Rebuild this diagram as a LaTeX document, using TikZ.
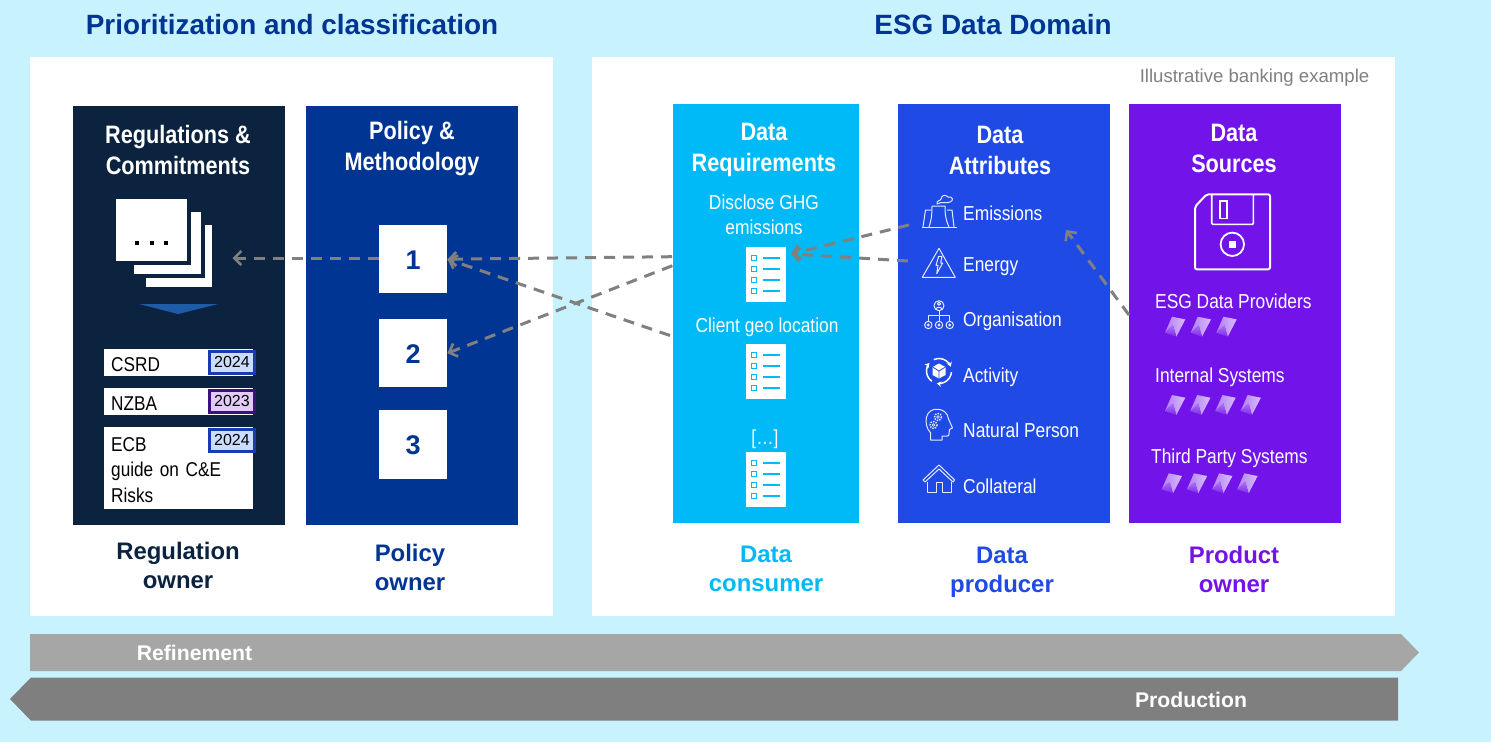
\documentclass[tikz,border=0pt]{standalone}
\usepackage{fontspec}
\setmainfont{Liberation Sans}
\newfontfamily\narrowfont[FakeStretch=0.86]{Liberation Sans}
\usetikzlibrary{arrows.meta}

\definecolor{bgcol}{HTML}{C9F2FF}
\definecolor{regcol}{HTML}{0C2340}
\definecolor{policycol}{HTML}{003594}
\definecolor{reqcol}{HTML}{00B9F7}
\definecolor{attrcol}{HTML}{1F4AE5}
\definecolor{sourcecol}{HTML}{7213EA}
\definecolor{linkcol}{HTML}{808080}
\definecolor{refinecol}{HTML}{A6A6A6}
\definecolor{prodcol}{HTML}{7F7F7F}
\definecolor{tagblue}{HTML}{1A3BB0}
\definecolor{tagbluefill}{HTML}{CBDDFF}
\definecolor{tagpurple}{HTML}{3A1280}
\definecolor{tagpurplefill}{HTML}{E2CCF7}
\definecolor{wedgecol}{HTML}{1F5CA8}

\newcommand{\fsize}[2]{\fontsize{#1}{#2}\selectfont}

\tikzset{
  panel/.style={anchor=north west,fill=white,minimum height=559pt,inner sep=0pt},
  colbox/.style={anchor=north west,minimum width=212pt,minimum height=419pt,inner sep=0pt},
  headtext/.style={text=white,align=center,inner sep=0pt,font=\narrowfont\bfseries\fsize{25.2}{31.5}},
  ownertext/.style={align=center,inner sep=0pt,font=\bfseries\fsize{23.9}{29}},
  bigtitle/.style={text=policycol,inner sep=0pt,font=\bfseries\fsize{27.9}{32}},
  itemtext/.style={text=white,inner sep=0pt,font=\narrowfont\fsize{20.2}{25}},
  flatitem/.style={itemtext,text height=14.5pt,text depth=0pt},
  leftitem/.style={flatitem,anchor=west},
  numbox/.style={anchor=north west,fill=white,text=policycol,minimum width=68pt,minimum height=68pt,
    inner sep=0pt,text height=20pt,text depth=0pt,font=\bfseries\fsize{27}{27}},
  rowbox/.style={anchor=north west,fill=white,minimum width=149pt,inner sep=0pt,inner xsep=7pt,
    text width=135pt,align=left,text height=17pt,font=\narrowfont\fsize{20}{25.5}},
  tagbox/.style 2 args={anchor=north west,draw=#1,fill=#2,line width=2.4pt,minimum width=45pt,
    minimum height=22pt,inner sep=0pt,font=\fsize{16}{16}},
  listbox/.style={anchor=north west,fill=white,minimum width=40pt,minimum height=55pt,inner sep=0pt},
  iconline/.style={draw=white!88!attrcol,line width=1pt,line join=round},
  link/.style={draw=linkcol,line width=3pt,dash pattern=on 11pt off 8pt,
    -{Straight Barb[length=7pt,width=14pt,line width=2.6pt]}},
  pics/gem/.style={code={
    \shade[left color=white!45!sourcecol,right color=white!72!sourcecol]
      (7,0) -- (20.3,2.7) -- (11.3,20) -- (8,8.3) -- (0,16) -- cycle;
    \shade[top color=white!42!sourcecol,bottom color=white!8!sourcecol]
      (8,8.3) -- (11.3,20) -- (0,16) -- cycle;
  }}
}

\begin{document}
\begin{tikzpicture}[x=1pt,y=-1pt]
  \fill[bgcol] (0,0) rectangle (1491,742);
  % panels
  \node[panel,minimum width=523pt] (leftpanel) at (30,57) {};
  \node[panel,minimum width=803pt] (rightpanel) at (592,57) {};
  \node[bigtitle] (lefttitle) at (292,25) {Prioritization and classification};
  \node[bigtitle] (righttitle) at (993,25) {ESG Data Domain};
  \node[text=black!50,inner sep=0pt,font=\fsize{18.6}{20}] (hint) at (1254.5,78) {Illustrative banking example};

  % columns
  \node[colbox,fill=regcol] (regcolumn) at (73,106) {};
  \node[colbox,fill=policycol] (policycolumn) at (306,106) {};
  \node[colbox,fill=reqcol,minimum width=186pt] (reqcolumn) at (673,104) {};
  \node[colbox,fill=attrcol] (attrcolumn) at (898,104) {};
  \node[colbox,fill=sourcecol] (sourcecolumn) at (1129,104) {};

  \node[headtext] (reghead) at (178,150) {Regulations \&\\Commitments};
  \node[headtext] (policyhead) at (412,148.5) {Policy \&\\Methodology};
  \node[headtext] (reqhead) at (764,150) {Data\\Requirements};
  \node[headtext] (attrhead) at (1000,150.5) {Data\\Attributes};
  \node[headtext] (sourcehead) at (1234,148.5) {Data\\Sources};

  \node[ownertext,text=regcol] (regowner) at (178,565.5) {Regulation\\owner};
  \node[ownertext,text=policycol] (policyowner) at (410,567.5) {Policy\\owner};
  \node[ownertext,text=reqcol] (reqowner) at (766,568.5) {Data\\consumer};
  \node[ownertext,text=attrcol] (attrowner) at (1002,572) {Data\\producer};
  \node[ownertext,text=sourcecol] (sourceowner) at (1234,569.5) {Product\\owner};

  % stacked sheets
  \fill[white] (146,225) rectangle (212,287);
  \fill[regcol] (130,208) rectangle (205,278);
  \fill[white] (134,212) rectangle (201,274);
  \fill[regcol] (112,195) rectangle (191,265);
  \node[anchor=north west,fill=white,minimum width=71pt,minimum height=62pt,inner sep=0pt] (sheet) at (116,199) {};
  \foreach \x in {137,152,166}
    \fill[black] (\x-2,241) rectangle (\x+2,245);
  \fill[wedgecol] (139,304) -- (218,304) -- (178,314) -- cycle;

  % regulation rows
  \node[rowbox,minimum height=27pt] (csrd) at (104,349) {CSRD};
  \node[rowbox,minimum height=27pt] (nzba) at (104,388) {NZBA};
  \node[rowbox,minimum height=82pt] (ecb) at (104,427) {ECB\\guide on C\&E\\Risks};
  \node[tagbox={tagblue}{tagbluefill}] (tagcsrd) at (208.2,350.2) {2024};
  \node[tagbox={tagpurple}{tagpurplefill}] (tagnzba) at (208.2,389.2) {2023};
  \node[tagbox={tagblue}{tagbluefill}] (tagecb) at (208.2,428.2) {2024};

  % numbered boxes
  \node[numbox] (one) at (379,225) {1};
  \node[numbox] (two) at (379,319) {2};
  \node[numbox,minimum height=69pt] (three) at (379,410) {3};

  % requirements
  \node[itemtext,align=center] (reqone) at (764,214.5) {Disclose GHG\\emissions};
  \node[flatitem] (reqtwo) at (767,325) {Client geo location};
  \node[flatitem] (reqthree) at (765,437) {[…]};
  \foreach \name/\y in {listone/247,listtwo/344,listthree/452} {
    \node[listbox] (\name) at (746,\y) {};
    \foreach \d in {11,22,33,44} {
      \draw[reqcol,line width=1.5pt] (751.7,\y+\d-2.3) rectangle (756.3,\y+\d+2.3);
      \draw[reqcol,line width=1.5pt] (763,\y+\d) -- (780,\y+\d);
    }
  }

  % attributes
  \node[leftitem] (emissions) at (963,213) {Emissions};
  \node[leftitem] (energy) at (963,264) {Energy};
  \node[leftitem] (organisation) at (963,319) {Organisation};
  \node[leftitem] (activity) at (963,375) {Activity};
  \node[leftitem] (person) at (963,430) {Natural Person};
  \node[leftitem] (collateral) at (963,486) {Collateral};

  % emissions icon
  \draw[iconline] (922,227) -- (957,227);
  \draw[iconline] (923,227) -- (925.5,210) -- (931,210);
  \draw[iconline] (954,227) -- (952,210) -- (947,210);
  \draw[iconline] (929,227) .. controls (932,218) and (932,212) .. (932,206) -- (945,206)
    .. controls (945,212) and (945,218) .. (949,227);
  \draw[iconline] (937,204) .. controls (936,200) and (941,201) .. (941,199)
    .. controls (942,194) and (946,195) .. (948,197) .. controls (953,196) and (954,201) .. (950,202)
    .. controls (946,204) and (942,201) .. (937,204);
  % energy icon
  \draw[iconline] (939,248.3) -- (955.3,277.3) -- (922.3,277.3) -- cycle;
  \draw[iconline] (938.7,256.3) -- (942,256.3) -- (940.7,263) -- (942.7,263) -- (936.7,273.7) -- (938,265.3) -- (936,265.3) -- cycle;
  % organisation icon
  \draw[iconline] (939,305.7) circle (5);
  \draw[iconline] (939,303.7) circle (1.6);
  \draw[iconline] (935.8,309.5) .. controls (936.5,306.5) and (941.5,306.5) .. (942.2,309.5);
  \draw[iconline] (939,310.7) -- (939,321.3);
  \draw[iconline] (928.3,321.3) -- (928.3,315.7) -- (949.7,315.7) -- (949.7,321.3);
  \foreach \x in {928.3,939,949.7} {
    \draw[iconline] (\x,325) circle (3.7);
    \fill[white!85!attrcol] (\x,325) circle (1.6);
  }
  % activity icon
  \foreach \a in {5,125,245}
    \draw[iconline,line width=1.5pt,draw=white,-{Stealth[length=4.5pt,width=5.5pt]}]
      (939,371) ++(\a:12.5) arc[start angle=\a,delta angle=95,radius=12.5];
  \fill[white] (939,363.5) -- (945.5,367) -- (945.5,375) -- (939,378.5) -- (932.5,375) -- (932.5,367) -- cycle;
  \draw[attrcol,line width=0.8pt] (932.5,367) -- (939,371) -- (945.5,367) (939,371) -- (939,378.5);
  % person icon
  \draw[iconline] (930.7,440) -- (930.7,433) .. controls (926,428) and (925.5,422) .. (926.5,417)
    .. controls (928,411) and (933,409) .. (937,409.3) .. controls (943,409) and (948,413) .. (948.5,419)
    -- (952.5,428) -- (949.5,429.5) -- (949,434) .. controls (949,435.5) and (948.5,436) .. (947,436)
    -- (942,436) -- (942,440) -- cycle;
  \foreach \x/\y in {938/417,933.5/425} {
    \draw[iconline,line width=0.7pt] (\x,\y) circle (1.3);
    \draw[iconline,line width=1.5pt,dash pattern=on 1.4pt off 1.2pt] (\x,\y) circle (3.5);
  }
  % collateral icon
  \draw[iconline] (923,480) -- (939,465) -- (954.7,480) -- (953,482) -- (939,469) -- (925,482) -- cycle;
  \draw[iconline] (927.3,482.3) -- (927.3,492.3) -- (936.3,492.3) -- (936.3,482.3) -- (942,482.3)
    -- (942,492.3) -- (951.3,492.3) -- (951.3,482.3);

  % floppy icon
  \draw[white,line width=2pt,rounded corners=2pt] (1195,206.7) -- (1206.7,194.3) -- (1270,194.3)
    -- (1270,269.3) -- (1195,269.3) -- cycle;
  \draw[white,line width=1.6pt,rounded corners=1pt] (1211.7,194.3) -- (1211.7,224.3) -- (1253.3,224.3) -- (1253.3,194.3);
  \draw[white,line width=1.6pt] (1220,200.7) rectangle (1226.7,218.3);
  \draw[white,line width=1.8pt] (1232.3,244.3) circle (11.7);
  \fill[white] (1229,241) rectangle (1235.6,247.6);

  % sources
  \node[leftitem] (providers) at (1155,301) {ESG Data Providers};
  \node[leftitem] (internal) at (1155,375) {Internal Systems};
  \node[leftitem] (thirdparty) at (1151,456) {Third Party Systems};
  \foreach \i in {0,1,2}
    \pic at (1165+25.7*\i,316.7) {gem};
  \foreach \i in {0,1,2,3} {
    \pic at (1165+25.2*\i,395) {gem};
    \pic at (1161.7+25.2*\i,473.3) {gem};
  }

  % phase arrows
  \fill[refinecol] (30,634) -- (1401,634) -- (1419,652.5) -- (1401,671) -- (30,671) -- cycle;
  \fill[prodcol] (31,677.5) -- (1398,677.5) -- (1398,720.7) -- (31,720.7) -- (10,699) -- cycle;
  \node[text=white,inner sep=0pt,font=\bfseries\fsize{21.2}{24}] (refinement) at (194.5,652.5) {Refinement};
  \node[text=white,inner sep=0pt,font=\bfseries\fsize{21.2}{24}] (production) at (1191,700) {Production};

  % links
  \coordinate (stacktip) at (232.5,258);
  \coordinate (listtip) at (791,254);
  \coordinate (reqout) at (672,256.7);
  \coordinate (reqcross) at (672.3,265.7);
  \coordinate (clientout) at (670,335.5);
  \coordinate (emisout) at (909,225);
  \coordinate (energyout) at (908,261);
  \coordinate (emisin) at (1066,230);
  \coordinate (sourceout) at (1129,315);
  \draw[link] (one.west |- stacktip) -- (stacktip);
  \draw[link] (reqout) -- (one.east);
  \draw[link] (clientout) -- (one.east);
  \draw[link] (reqcross) -- (two.east);
  \draw[link] (emisout) -- (listtip);
  \draw[link] (energyout) -- (listtip);
  \draw[link] (sourceout) -- (emisin);
\end{tikzpicture}
\end{document}
